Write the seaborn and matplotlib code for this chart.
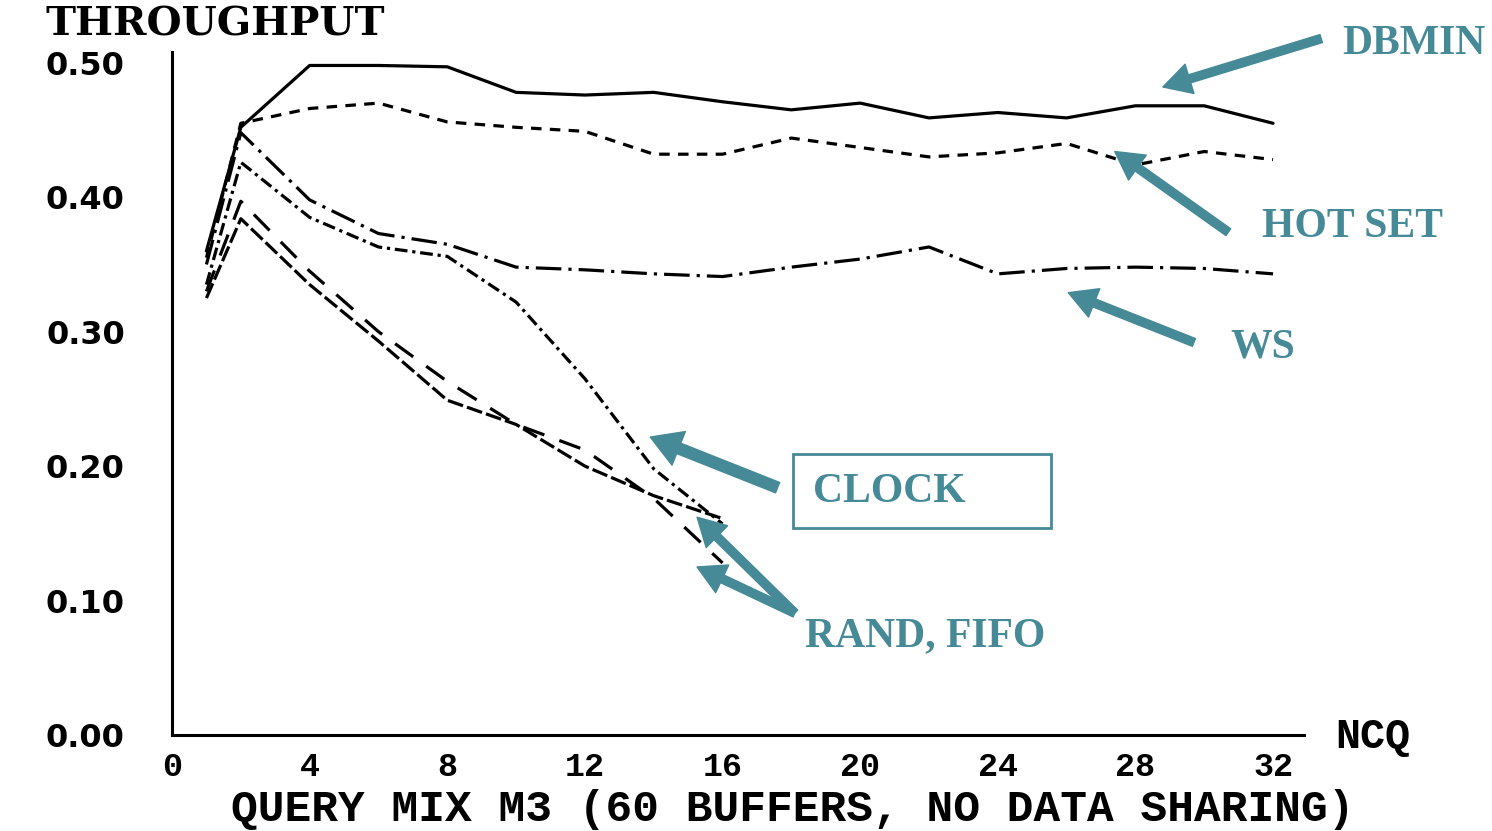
import matplotlib
matplotlib.use("Agg")
import matplotlib.pyplot as plt
from matplotlib.patches import Rectangle
import pandas as pd
import seaborn as sns

# valeurs (NCQ = 1, 2, 4, ..., 32)
ncq = [1, 2, 4, 6, 8, 10, 12, 14, 16, 18, 20, 22, 24, 26, 28, 30, 32]
dbmin = [0.360, 0.452, 0.498, 0.498, 0.497, 0.478, 0.476, 0.478, 0.471,
         0.465, 0.470, 0.459, 0.463, 0.459, 0.468, 0.468, 0.455]
hot_set = [0.355, 0.455, 0.466, 0.470, 0.456, 0.452, 0.449, 0.432, 0.432,
           0.444, 0.437, 0.430, 0.433, 0.440, 0.424, 0.434, 0.428]
ws = [0.350, 0.448, 0.398, 0.373, 0.365, 0.348, 0.346, 0.343, 0.341,
      0.348, 0.354, 0.363, 0.343, 0.347, 0.348, 0.347, 0.343]
ncq_short = [1, 2, 4, 6, 8, 10, 12, 14, 16]
clock = [0.335, 0.426, 0.385, 0.363, 0.356, 0.322, 0.265, 0.198, 0.157]
rand = [0.330, 0.397, 0.345, 0.300, 0.263, 0.231, 0.212, 0.176, 0.128]
fifo = [0.325, 0.384, 0.335, 0.293, 0.249, 0.231, 0.200, 0.178, 0.161]

y_ticks = [0.0, 0.1, 0.2, 0.3, 0.4, 0.5]
x_ticks = [0, 4, 8, 12, 16, 20, 24, 28, 32]

teal = "#458a96"

frames = []
for name, xs, ys in [("DBMIN", ncq, dbmin), ("HOT SET", ncq, hot_set),
                     ("WS", ncq, ws), ("CLOCK", ncq_short, clock),
                     ("RAND", ncq_short, rand), ("FIFO", ncq_short, fifo)]:
    frames.append(pd.DataFrame({"ncq": xs, "throughput": ys, "policy": name}))
df = pd.concat(frames, ignore_index=True)

dash_map = {
    "DBMIN": "",
    "HOT SET": (3.3, 2.6),
    "WS": (8, 2.2, 1, 2.2),
    "CLOCK": (4, 1.5, 1, 1.5),
    "RAND": (7, 5),
    "FIFO": (5, 1.3),
}

sns.set_style("white")
plt.rcParams["font.family"] = ["DejaVu Sans"]
plt.rcParams["text.color"] = "black"

fig = plt.figure(figsize=(14.92, 8.31), dpi=100)
ax = fig.add_axes([0.1153, 0.1155, 0.7587, 0.8219])

sns.lineplot(data=df, x="ncq", y="throughput", style="policy",
             dashes=dash_map, color="black", linewidth=2.3,
             errorbar=None, legend=False, ax=ax)

ax.set_xlim(0, 32.9)
ax.set_ylim(0, 0.508)
for s in ["top", "right"]:
    ax.spines[s].set_visible(False)
for s in ["left", "bottom"]:
    ax.spines[s].set_color("black")
    ax.spines[s].set_linewidth(2.2)

ax.set_yticks(y_ticks)
ax.set_yticklabels([f"{v:.2f}" for v in y_ticks], fontsize=23,
                   fontweight="bold", family="DejaVu Sans")
ax.set_xticks(x_ticks)
ax.set_xticklabels([str(v) for v in x_ticks], fontsize=24,
                   fontweight="bold", family="Liberation Mono")
ax.tick_params(axis="y", direction="inout", length=18, width=1.5, pad=25, colors="black")
ax.tick_params(axis="x", direction="inout", length=10, width=1.5, pad=7, colors="black")
ax.set_xlabel("")
ax.set_ylabel("")

fig.text(45 / 1492, 1 - 25 / 831, "THROUGHPUT", fontsize=29, fontweight="bold",
         family="DejaVu Serif", ha="left", va="center", color="black")
fig.text(1335 / 1492, 1 - 737 / 831, "NCQ", fontsize=30, fontweight="bold",
         family="Liberation Mono", ha="left", va="center", color="black")
fig.text(793 / 1492, 1 / 831, "QUERY MIX M3 (60 BUFFERS, NO DATA SHARING)",
         fontsize=32, fontweight="bold", family="Liberation Mono",
         ha="center", va="bottom", color="black")

# annotations en couleur
lab = dict(color=teal, fontsize=30, fontweight="bold", family="Liberation Serif",
           va="center", annotation_clip=False)
arrow = dict(facecolor=teal, edgecolor=teal, width=6, headwidth=22,
             headlength=20, shrink=0)
ax.annotate("", xy=(28.8, 0.482), xytext=(33.4, 0.518), arrowprops=arrow,
            annotation_clip=False)
ax.annotate("DBMIN", xy=(36.1, 0.514), ha="center", **lab)
ax.annotate("", xy=(27.4, 0.434), xytext=(30.7, 0.374), arrowprops=arrow,
            annotation_clip=False)
ax.annotate("HOT SET", xy=(34.3, 0.378), ha="center", **lab)
ax.annotate("", xy=(26.05, 0.329), xytext=(29.7, 0.292), arrowprops=arrow,
            annotation_clip=False)
ax.annotate("WS", xy=(31.7, 0.288), ha="center", **lab)

arrow_big = dict(arrow, width=8, headwidth=26, headlength=22)
ax.annotate("", xy=(13.9, 0.2216), xytext=(17.6, 0.184), arrowprops=arrow_big,
            annotation_clip=False)
ax.add_patch(Rectangle((18.05, 0.154), 7.5, 0.055, fill=False,
                       edgecolor=teal, linewidth=2, clip_on=False))
ax.annotate("CLOCK", xy=(18.63, 0.181), ha="left", **lab)

ax.annotate("", xy=(15.26, 0.162), xytext=(18.1, 0.0907), arrowprops=arrow,
            annotation_clip=False)
ax.annotate("", xy=(15.26, 0.125), xytext=(18.1, 0.0907), arrowprops=arrow,
            annotation_clip=False)
ax.annotate("RAND, FIFO", xy=(18.4, 0.0736), ha="left", **lab)

fig.savefig("out.png", dpi=100)
